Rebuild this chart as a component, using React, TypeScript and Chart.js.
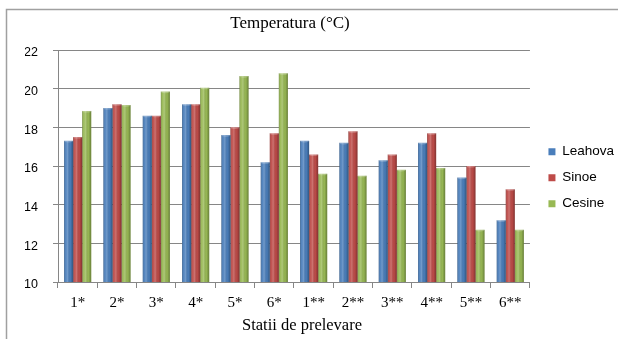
import React, { useEffect, useRef } from "react";
import { Chart, registerables } from "chart.js";

Chart.register(...registerables);

// Sampling stations (first and second campaign)
const stations = ["1*", "2*", "3*", "4*", "5*", "6*", "1**", "2**", "3**", "4**", "5**", "6**"];

// Water temperature, °C
const leahova = [17.3, 19.0, 18.6, 19.2, 17.6, 16.2, 17.3, 17.2, 16.3, 17.2, 15.4, 13.2];
const sinoe = [17.5, 19.2, 18.6, 19.2, 18.0, 17.7, 16.6, 17.8, 16.6, 17.7, 16.0, 14.8];
const cesine = [18.85, 19.15, 19.85, 20.05, 20.65, 20.8, 15.6, 15.5, 15.8, 15.9, 12.7, 12.7];

const seriesNames = ["Leahova", "Sinoe", "Cesine"];
const seriesColors = ["#4a7ebb", "#be4b48", "#98b954"];

const yMin = 10;
const yMax = 22;
const yStep = 2;

const chartTitle = "Temperatura (°C)";
const xTitle = "Statii de prelevare";

const GRID = "#868686";

// Gives each column a rounded, cylinder-like shading
const columnShading = {
  id: "columnShading",
  afterDatasetsDraw(chart: any) {
    const ctx = chart.ctx;
    const area = chart.chartArea;
    ctx.save();
    ctx.beginPath();
    ctx.rect(area.left, area.top - 4, area.right - area.left, area.bottom - area.top + 4);
    ctx.clip();
    chart.data.datasets.forEach((_ds: any, di: number) => {
      const meta = chart.getDatasetMeta(di);
      meta.data.forEach((el: any) => {
        const { x, y, base, width } = el.getProps(["x", "y", "base", "width"], true);
        const left = x - width / 2;
        const bottom = Math.min(base, area.bottom);
        const g = ctx.createLinearGradient(left, 0, left + width, 0);
        g.addColorStop(0, "rgba(0,0,0,0.28)");
        g.addColorStop(0.18, "rgba(255,255,255,0.05)");
        g.addColorStop(0.38, "rgba(255,255,255,0.22)");
        g.addColorStop(0.7, "rgba(0,0,0,0.02)");
        g.addColorStop(1, "rgba(0,0,0,0.32)");
        ctx.fillStyle = g;
        ctx.fillRect(left, y, width, bottom - y);
        // top cap
        ctx.beginPath();
        ctx.ellipse(x, y, width / 2, 1.6, 0, 0, Math.PI * 2);
        ctx.fillStyle = "rgba(255,255,255,0.25)";
        ctx.fill();
      });
    });
    ctx.restore();
  },
};

// Outer frame plus chart and axis captions
const frameAndCaptions = {
  id: "frameAndCaptions",
  beforeDraw(chart: any) {
    const ctx = chart.ctx;
    ctx.save();
    ctx.fillStyle = "#ffffff";
    ctx.fillRect(0, 0, chart.width, chart.height);
    ctx.strokeStyle = "#a0a0a0";
    ctx.lineWidth = 1.5;
    ctx.beginPath();
    ctx.moveTo(6.5, chart.height);
    ctx.lineTo(6.5, 9.5);
    ctx.lineTo(chart.width, 9.5);
    ctx.stroke();
    ctx.restore();
  },
  afterDraw(chart: any) {
    const ctx = chart.ctx;
    ctx.save();
    ctx.fillStyle = "#000";
    ctx.textAlign = "center";
    ctx.textBaseline = "middle";
    ctx.font = '17px "Liberation Serif"';
    ctx.fillText(chartTitle, 290, 24);
    ctx.font = '16.5px "Liberation Serif"';
    ctx.fillText(xTitle, 302, 326);
    ctx.restore();
  },
};

export default function App() {
  const canvasRef = useRef<HTMLCanvasElement | null>(null);

  useEffect(() => {
    if (!canvasRef.current) return;
    const values = [leahova, sinoe, cesine];
    const chart = new Chart(canvasRef.current, {
      type: "bar",
      data: {
        labels: stations,
        datasets: seriesNames.map((name, i) => ({
          label: name,
          data: values[i],
          backgroundColor: seriesColors[i],
          borderWidth: 0,
          categoryPercentage: 0.69,
          barPercentage: 1,
        })),
      },
      options: {
        responsive: false,
        animation: false,
        devicePixelRatio: 1,
        layout: { padding: { left: 25, top: 50, bottom: 21, right: -6 } },
        plugins: {
          title: { display: false },
          tooltip: { enabled: false },
          legend: {
            position: "right",
            align: "start",
            // empty title only reserves space above the entries
            title: { display: true, text: "", font: { size: 10 }, padding: { top: 70.5, bottom: 0 } },
            labels: {
              boxWidth: 7,
              boxHeight: 7,
              padding: 12.5,
              color: "#000",
              font: { family: "Liberation Sans", size: 13.5 },
            },
          },
        },
        scales: {
          x: {
            grid: { display: true, drawOnChartArea: false, color: GRID, tickLength: 6, offset: true },
            border: { color: GRID },
            ticks: {
              color: "#000",
              font: { family: "Liberation Serif", size: 15 },
              padding: 6,
              maxRotation: 0,
              autoSkip: false,
            },
          },
          y: {
            min: yMin,
            max: yMax,
            grid: { color: GRID, tickLength: 5 },
            border: { color: GRID },
            ticks: {
              stepSize: yStep,
              color: "#000",
              font: { family: "Liberation Sans", size: 12.5 },
              padding: 15,
              labelOffset: 3,
            },
            afterFit: (s: any) => {
              s.width = 33;
            },
          },
          y2: {
            position: "right",
            display: true,
            grid: { display: false, drawTicks: false },
            border: { display: false },
            ticks: { display: false },
            afterFit: (s: any) => {
              s.width = 6;
            },
          },
        },
      },
      plugins: [frameAndCaptions, columnShading],
    } as any);
    return () => chart.destroy();
  }, []);

  return (
    <div style={{ position: "absolute", left: 0, top: 0, width: 618, height: 339 }}>
      <canvas ref={canvasRef} width={618} height={339} />
    </div>
  );
}
